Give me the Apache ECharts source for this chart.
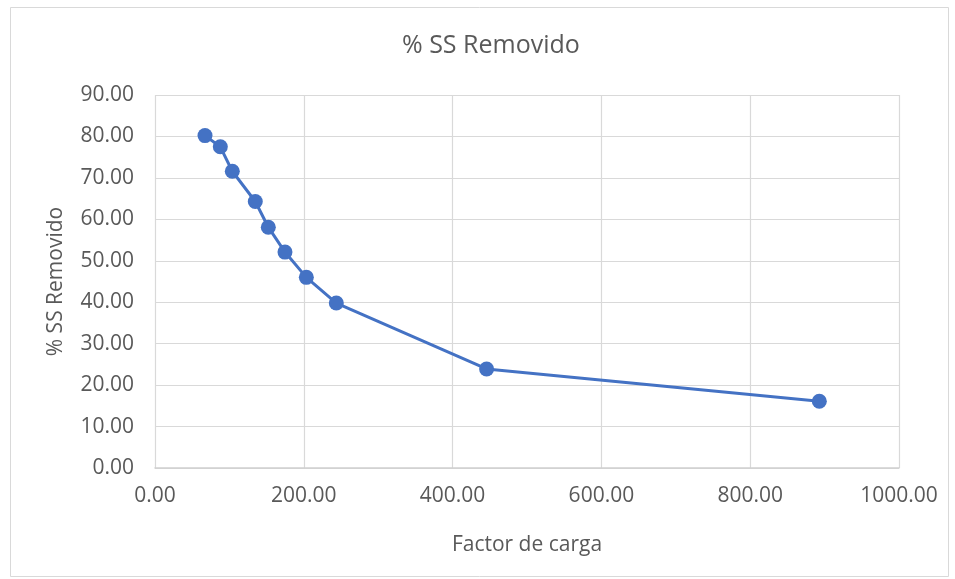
<!DOCTYPE html>
<html>
<head>
<meta charset="utf-8">
<script src="https://cdn.jsdelivr.net/npm/echarts@6/dist/echarts.min.js"></script>
<style>html,body{margin:0;padding:0;background:#fff}#c{width:955px;height:579px}</style>
</head>
<body>
<div id="c"></div>
<script>
var factorCarga = [67.2, 87.8, 103.9, 134.8, 152.3, 174.7, 203.4, 243.7, 445.7, 892.9];
var ssRemovido = [80.2, 77.5, 71.6, 64.3, 58.1, 52.1, 46.0, 39.8, 23.9, 16.1];
var chartTitle = '% SS Removido';
var xName = 'Factor de carga';
var yName = '% SS Removido';

var data = factorCarga.map(function (x, i) { return [x, ssRemovido[i]]; });
var font = '"Open Sans", "Noto Sans", sans-serif';
var chart = echarts.init(document.getElementById('c'));
chart.setOption({
  animation: false,
  backgroundColor: '#fff',
  graphic: [{
    type: 'rect', left: 8, top: 5,
    shape: { width: 938, height: 569 },
    style: { fill: 'none', stroke: '#d9d9d9', lineWidth: 1 },
    silent: true
  }],
  title: {
    text: chartTitle, left: 397, top: 28,
    textStyle: { fontFamily: font, fontWeight: 'normal', fontSize: 25, color: '#595959' }
  },
  grid: { left: 155, right: 56, top: 95, bottom: 111 },
  xAxis: {
    type: 'value', min: 0, max: 1000, interval: 200,
    name: xName, nameLocation: 'middle', nameGap: 67,
    nameTextStyle: { fontFamily: font, fontSize: 21, color: '#595959' },
    axisLine: { show: true, lineStyle: { color: '#d0d0d0', width: 1.5 } },
    axisTick: { show: false },
    axisLabel: { fontFamily: font, fontSize: 21, color: '#595959', margin: 18,
      formatter: function (v) { return v.toFixed(2); } },
    splitLine: { show: true, lineStyle: { color: '#d9d9d9', width: 1.2 } }
  },
  yAxis: {
    type: 'value', min: 0, max: 90, interval: 10,
    name: yName, nameLocation: 'middle', nameGap: 88, nameRotate: 90,
    nameTextStyle: { fontFamily: font, fontSize: 21, color: '#595959' },
    axisLine: { show: false },
    axisTick: { show: false },
    axisLabel: { fontFamily: font, fontSize: 21, color: '#595959', margin: 21,
      formatter: function (v) { return v.toFixed(2); } },
    splitLine: { show: true, lineStyle: { color: '#d9d9d9', width: 1.2 } }
  },
  series: [{
    type: 'line', data: data,
    symbol: 'circle', symbolSize: 15,
    lineStyle: { color: '#4472C4', width: 3 },
    itemStyle: { color: '#4472C4' }
  }]
});
</script>
</body>
</html>
